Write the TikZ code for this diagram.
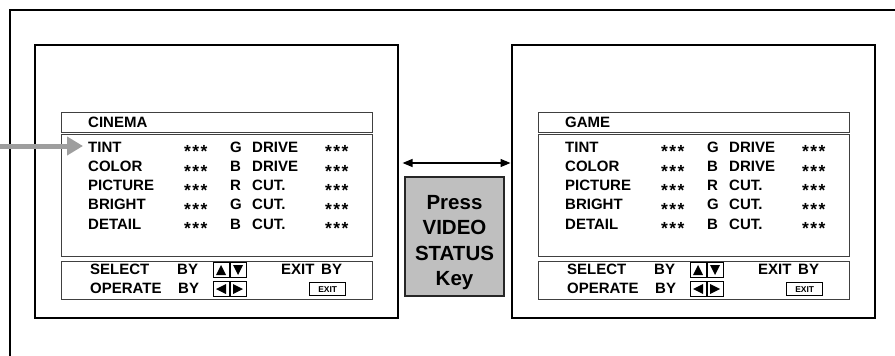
\documentclass[tikz,border=0pt]{standalone}
\usepackage{fontspec}
\setmainfont{Liberation Sans}
\usetikzlibrary{arrows.meta}
\newcommand\mystars{\raisebox{-5.9pt}{*\kern1.4pt*\kern1.4pt*}}
\tikzset{
  x=1pt, y=-1pt,
  frame/.style={line width=1.6pt, line cap=rect},
  screen/.style={draw, line width=1.6pt, minimum width=363pt, minimum height=273pt, anchor=north west, inner sep=0pt},
  bar/.style={draw=black!75, line width=0.9pt, anchor=north west, inner sep=0pt, minimum width=311pt},
  txt/.style={anchor=base west, inner sep=0pt, font=\fontsize{15}{17}\selectfont\bfseries},
  stars/.style={anchor=base west, inner sep=0pt, font=\fontsize{17.5}{18}\selectfont\bfseries},
  btn/.style={draw, line width=0.8pt, minimum width=16pt, minimum height=15pt, inner sep=0pt, anchor=north west},
  exitbtn/.style={draw, line width=1.4pt, minimum width=36pt, minimum height=13pt, inner sep=0pt, anchor=north west, font=\fontsize{8.5}{9}\selectfont\bfseries},
  keybox/.style={draw=black!85, fill=black!25, line width=1.6pt, minimum width=99pt, minimum height=119pt, inner sep=0pt},
  keytext/.style={align=center, inner sep=0pt, font=\fontsize{20.5}{25.5}\selectfont\bfseries},
  greyarrow/.style={draw=black!38, line width=5pt, -{Triangle[length=16pt,width=18pt]}},
  dblarrow/.style={draw, line width=1.3pt, {Triangle[length=10pt,width=8pt]}-{Triangle[length=10pt,width=8pt]}},
}
\newcommand\myscreen[3]{%
\begin{scope}[xshift=#2pt]
  \node[screen] (#1) at (34,44) {};
  \node[bar, minimum height=20pt] (#1title) at (61,112) {};
  \node[txt] (#1name) at (88,127) {#3};
  \node[bar, minimum height=122pt] (#1list) at (61,134) {};
  \foreach \lab/\l/\w [count=\i from 0] in {TINT/G/DRIVE, COLOR/B/DRIVE, PICTURE/R/CUT., BRIGHT/G/CUT., DETAIL/B/CUT.}{
    \pgfmathsetmacro{\yy}{152+19.25*\i}
    \node[txt] (#1lab\i) at (88,\yy) {\lab};
    \node[stars] (#1sa\i) at (184,\yy) {\mystars};
    \node[txt] (#1let\i) at (230,\yy) {\l};
    \node[txt] (#1word\i) at (252,\yy) {\w};
    \node[stars] (#1sb\i) at (325,\yy) {\mystars};
  }
  \node[bar, minimum height=38pt] (#1ctl) at (61,261) {};
  \node[txt] (#1sel) at (90,274) {SELECT};
  \node[txt] (#1selby) at (177,274) {BY};
  \node[txt] (#1exit) at (281,274) {EXIT};
  \node[txt] (#1exitby) at (321,274) {BY};
  \node[txt] (#1op) at (90,293) {OPERATE};
  \node[txt] (#1opby) at (178,293) {BY};
  \node[btn] (#1up) at (213,262) {};
  \node[btn] (#1down) at (230,262) {};
  \node[btn] (#1left) at (213,281) {};
  \node[btn] (#1right) at (230,281) {};
  \fill (216,275) -- (226,275) -- (221,265) -- cycle;
  \fill (233,265) -- (243,265) -- (238,275) -- cycle;
  \fill (226,284) -- (226,294) -- (216,289) -- cycle;
  \fill (233,284) -- (233,294) -- (243,289) -- cycle;
  \node[exitbtn] (#1exitkey) at (309,282) {EXIT};
\end{scope}}
\begin{document}
\begin{tikzpicture}
  \useasboundingbox (0,0) rectangle (895,356);
  \draw[frame] (10,360) -- (10,10) -- (900,10);
  \myscreen{ls}{0}{CINEMA}
  \myscreen{rs}{477}{GAME}
  \node[keybox] (key) at (454.5,236.5) {};
  \node[keytext] (keylabel) at ([yshift=-6pt]key.center) {Press\\VIDEO\\STATUS\\Key};
  \coordinate (ay) at (0,163);
  \draw[dblarrow, shorten <=4pt, shorten >=0.5pt] (ls.east |- ay) -- (rs.west |- ay);
  \coordinate (src) at (-2,146);
  \draw[greyarrow, shorten >=5pt] (src) -- (src -| lslab0.west);
\end{tikzpicture}
\end{document}
